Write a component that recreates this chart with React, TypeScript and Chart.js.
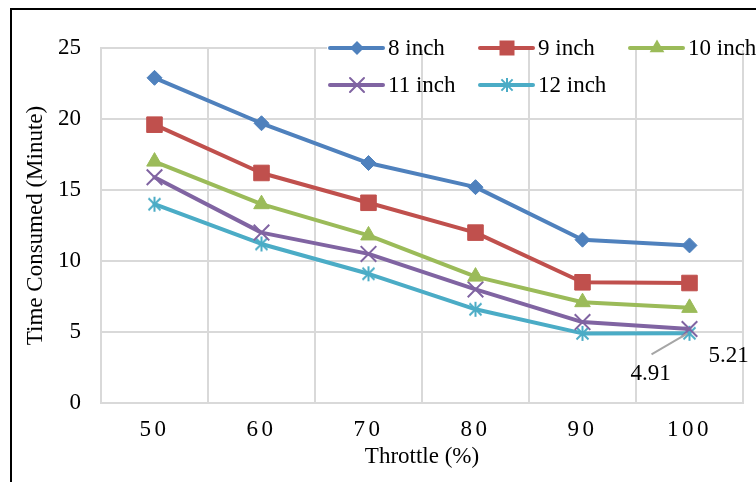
import React, { useEffect, useRef } from 'react';
import { Chart, registerables } from 'chart.js';

Chart.register(...registerables);

const categories = ['50', '60', '70', '80', '90', '100'];
const seriesNames = ['8 inch', '9 inch', '10 inch', '11 inch', '12 inch'];
const inch8 = [22.9, 19.7, 16.9, 15.2, 11.5, 11.1];
const inch9 = [19.6, 16.2, 14.1, 12.0, 8.5, 8.45];
const inch10 = [17.0, 14.0, 11.8, 8.9, 7.1, 6.7];
const inch11 = [15.9, 12.0, 10.5, 8.0, 5.7, 5.21];
const inch12 = [14.0, 11.2, 9.1, 6.6, 4.9, 4.91];
const colors = ['#4F81BD', '#C0504D', '#9BBB59', '#8064A2', '#4BACC6'];
const yTitle = 'Time Consumed (Minute)';
const xTitle = 'Throttle (%)';
const yMin = 0;
const yMax = 25;
const yStep = 5;
const labelA = '5.21';
const labelB = '4.91';

const FONT = "'Liberation Serif', 'Times New Roman', serif";

function makeStar(color: string, size: number, lw: number) {
  const c = document.createElement('canvas');
  c.width = size;
  c.height = size;
  const g = c.getContext('2d')!;
  g.strokeStyle = color;
  g.lineWidth = lw;
  const m = size / 2;
  const a = size / 2 - 1;
  const d = a * 0.8;
  g.beginPath();
  g.moveTo(m, m - a);
  g.lineTo(m, m + a);
  g.moveTo(m - d, m - d);
  g.lineTo(m + d, m + d);
  g.moveTo(m + d, m - d);
  g.lineTo(m - d, m + d);
  g.stroke();
  return c;
}

function drawMarker(ctx: CanvasRenderingContext2D, kind: number, x: number, y: number, color: string, star: HTMLCanvasElement) {
  ctx.save();
  ctx.fillStyle = color;
  ctx.strokeStyle = color;
  ctx.beginPath();
  if (kind === 0) {
    const r = 7;
    ctx.moveTo(x, y - r);
    ctx.lineTo(x + r, y);
    ctx.lineTo(x, y + r);
    ctx.lineTo(x - r, y);
    ctx.closePath();
    ctx.fill();
  } else if (kind === 1) {
    ctx.rect(x - 7.5, y - 7.5, 15, 15);
    ctx.fill();
  } else if (kind === 2) {
    const r = 8.5;
    ctx.moveTo(x, y - r);
    ctx.lineTo(x + r * 0.866, y + r * 0.5);
    ctx.lineTo(x - r * 0.866, y + r * 0.5);
    ctx.closePath();
    ctx.fill();
  } else if (kind === 3) {
    const a = 7;
    ctx.lineWidth = 2;
    ctx.moveTo(x - a, y - a);
    ctx.lineTo(x + a, y + a);
    ctx.moveTo(x + a, y - a);
    ctx.lineTo(x - a, y + a);
    ctx.stroke();
  } else {
    ctx.drawImage(star, x - star.width / 2, y - star.height / 2);
  }
  ctx.restore();
}

export default function App() {
  const ref = useRef<HTMLCanvasElement | null>(null);

  useEffect(() => {
    const canvas = ref.current;
    if (!canvas) return;
    const star = makeStar(colors[4], 17, 2);
    const legendStar = makeStar(colors[4], 16, 2);
    const seriesData = [inch8, inch9, inch10, inch11, inch12];
    const pointStyles: any[] = ['rectRot', 'rect', 'triangle', 'crossRot', star];
    const pointRadii = [7.5, 11, 9, 11, 8.5];
    const pointBorders = [1, 1, 1, 2, 1];

    const overlay = {
      id: 'overlay',
      afterLayout(chart: any) {
        const xs = chart.scales.x;
        if (xs && !xs.__spaced) {
          const orig = xs.drawLabels.bind(xs);
          xs.drawLabels = (area: any) => {
            const c = chart.ctx as any;
            c.save();
            c.letterSpacing = '3.5px';
            orig(area);
            c.restore();
          };
          xs.__spaced = true;
        }
      },
      beforeDatasetsDraw(chart: any) {
        const ctx = chart.ctx as CanvasRenderingContext2D;
        ctx.save();
        ctx.fillStyle = '#ffffff';
        ctx.fillRect(327, chart.chartArea.top - 3, 756 - 327, 5);
        ctx.restore();
      },
      afterDraw(chart: any) {
        const ctx = chart.ctx as CanvasRenderingContext2D;
        const xs = chart.scales.x;
        const ys = chart.scales.y;
        ctx.save();
        // legend
        const colX = [330, 480, 630];
        const rowY = [48, 85];
        ctx.font = `23px ${FONT}`;
        ctx.textBaseline = 'middle';
        ctx.textAlign = 'left';
        seriesNames.forEach((name, i) => {
          const col = i < 3 ? i : i - 3;
          const row = i < 3 ? 0 : 1;
          const x0 = colX[col];
          const y0 = rowY[row];
          ctx.strokeStyle = colors[i];
          ctx.lineWidth = 4;
          ctx.lineCap = 'round';
          ctx.beginPath();
          ctx.moveTo(x0, y0);
          ctx.lineTo(x0 + 53, y0);
          ctx.stroke();
          drawMarker(ctx, i, x0 + 27, y0, colors[i], legendStar);
          ctx.fillStyle = '#000';
          ctx.fillText(name, x0 + 58, y0 + 1);
        });
        // data labels
        const px = xs.getPixelForValue(5);
        const pyA = ys.getPixelForValue(inch11[5]);
        const pyB = ys.getPixelForValue(inch12[5]);
        ctx.textAlign = 'center';
        ctx.fillStyle = '#000';
        ctx.fillText(labelA, px + 39, pyA + 27);
        ctx.fillText(labelB, px - 39, pyB + 41);
        ctx.strokeStyle = '#a6a6a6';
        ctx.lineWidth = 2;
        ctx.lineCap = 'butt';
        ctx.beginPath();
        ctx.moveTo(px - 38, pyB + 21);
        ctx.lineTo(px - 2, pyB);
        ctx.stroke();
        // frame
        ctx.strokeStyle = '#000';
        ctx.lineWidth = 2;
        ctx.beginPath();
        ctx.moveTo(10, 9);
        ctx.lineTo(756, 9);
        ctx.moveTo(11, 8);
        ctx.lineTo(11, 482);
        ctx.stroke();
        ctx.restore();
      },
    };

    const chart = new Chart(canvas, {
      type: 'line',
      data: {
        labels: categories,
        datasets: seriesNames.map((name, i) => ({
          label: name,
          data: seriesData[i],
          borderColor: colors[i],
          backgroundColor: colors[i],
          borderWidth: 4,
          borderCapStyle: 'round',
          borderJoinStyle: 'round',
          pointStyle: pointStyles[i],
          pointRadius: pointRadii[i],
          pointBorderWidth: pointBorders[i],
          pointBackgroundColor: colors[i],
          pointBorderColor: colors[i],
          tension: 0,
          fill: false,
        })) as any,
      },
      options: {
        animation: false,
        responsive: false,
        devicePixelRatio: 1,
        layout: { padding: { top: 48, right: 13, left: 0, bottom: 0 } },
        plugins: { legend: { display: false }, tooltip: { enabled: false } },
        scales: {
          x: {
            type: 'category',
            offset: true,
            grid: { offset: true, color: '#d9d9d9', lineWidth: 2, drawTicks: false },
            border: { display: true, color: '#d9d9d9', width: 2 },
            ticks: {
              padding: 13,
              color: '#000',
              font: { family: FONT, size: 23 },
              maxRotation: 0,
            },
            title: {
              display: true,
              text: xTitle,
              color: '#000',
              font: { family: FONT, size: 23 },
              padding: { top: 0, bottom: 11 },
            },
            afterFit: (s: any) => {
              s.height = 79;
            },
          },
          y: {
            min: yMin,
            max: yMax,
            grid: { color: '#d9d9d9', lineWidth: 2, drawTicks: false },
            border: { display: true, color: '#d9d9d9', width: 2 },
            ticks: {
              stepSize: yStep,
              padding: 20,
              color: '#000',
              font: { family: FONT, size: 23 },
            },
            title: {
              display: true,
              text: yTitle,
              color: '#000',
              font: { family: FONT, size: 23 },
              padding: { top: 22, bottom: 0 },
            },
            afterFit: (s: any) => {
              s.width = 101;
            },
          },
        },
      },
      plugins: [overlay],
    });
    return () => chart.destroy();
  }, []);

  return (
    <div style={{ position: 'fixed', left: 0, top: 0, width: 756, height: 482, background: '#fff' }}>
      <canvas ref={ref} width={756} height={482} style={{ display: 'block', width: 756, height: 482 }} />
    </div>
  );
}
